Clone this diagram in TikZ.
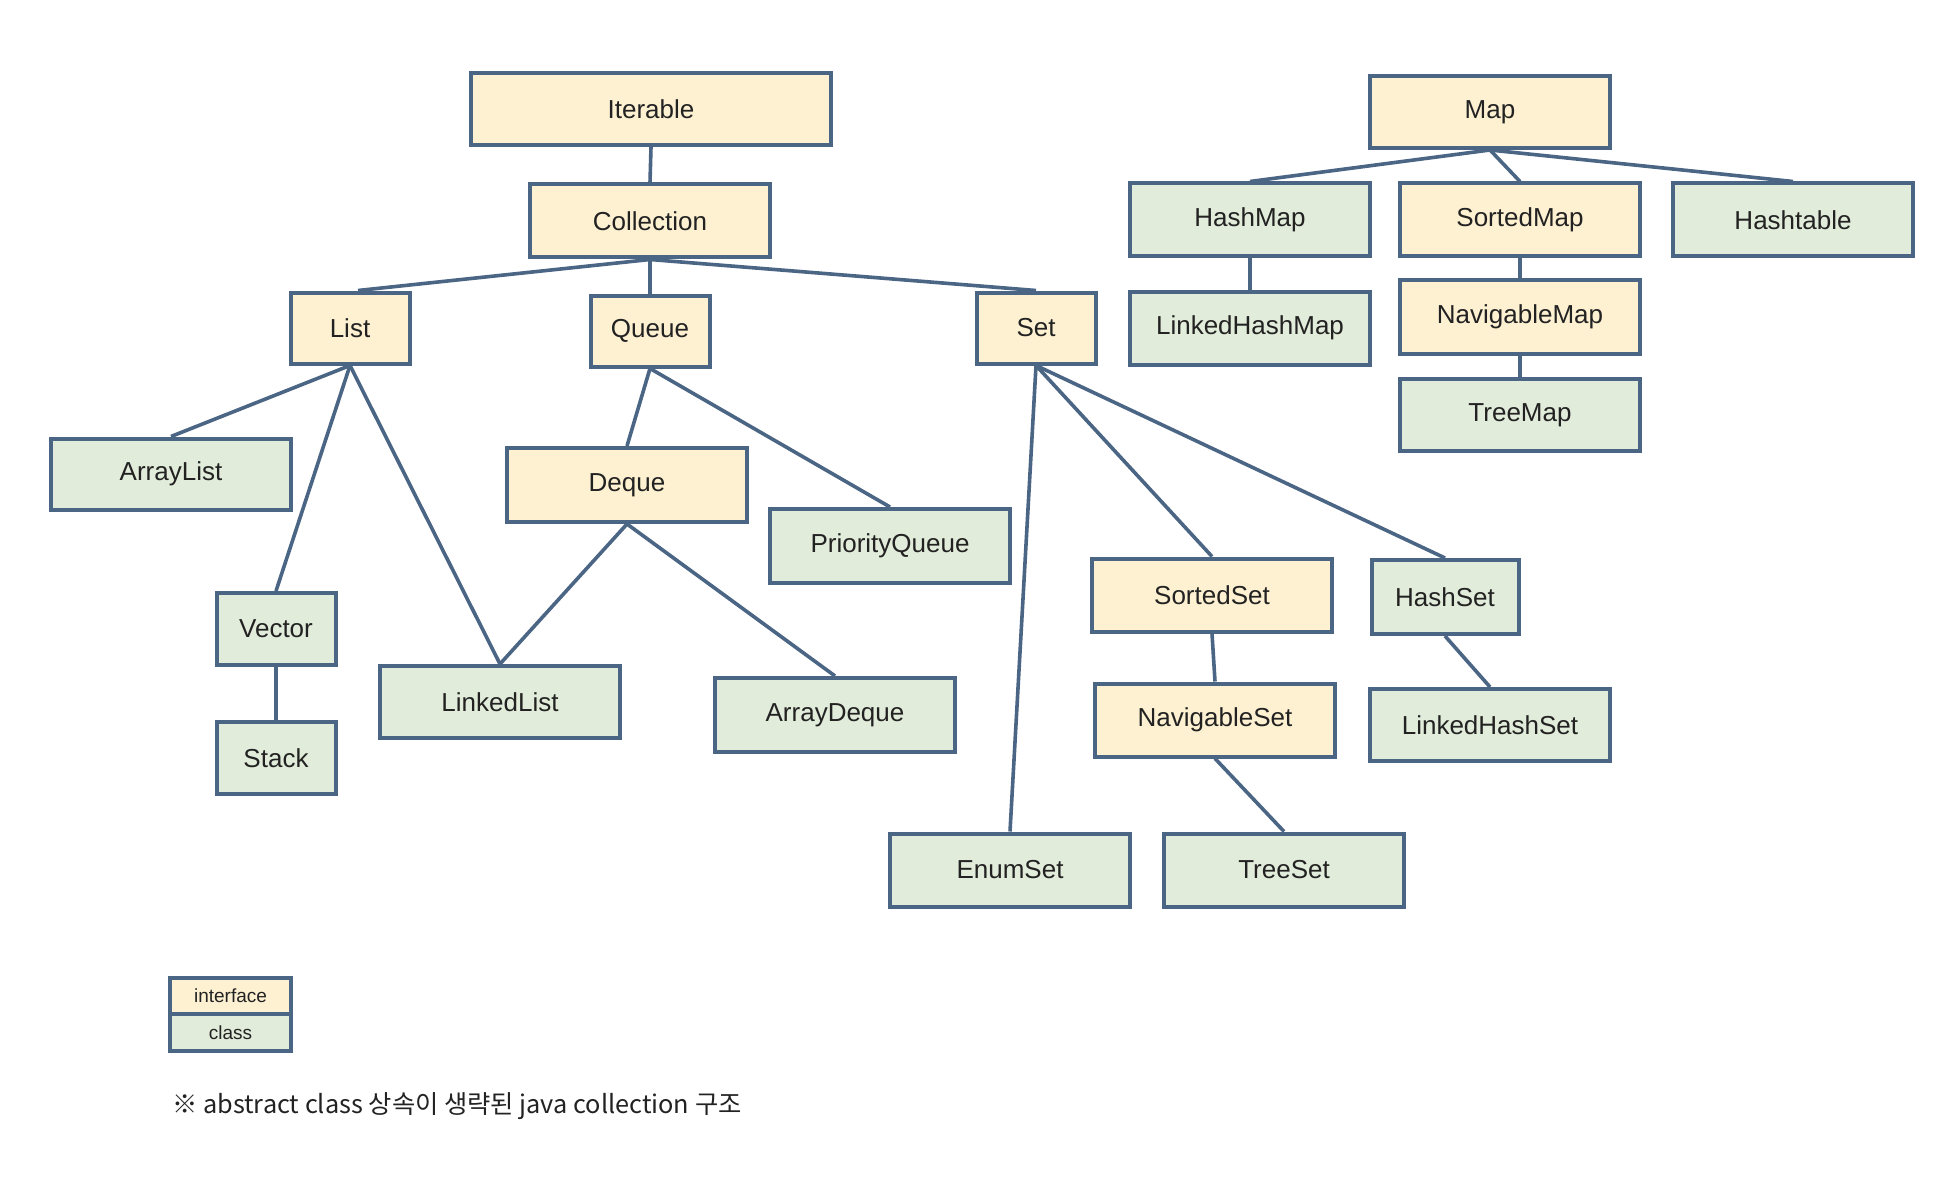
\documentclass[tikz,border=0pt]{standalone}
\usepackage{fontspec}
\setmainfont{Liberation Sans}
\newfontfamily\krfont{Noto Sans CJK KR}
\definecolor{ifill}{HTML}{FDF1D2}
\definecolor{cfill}{HTML}{E2ECDA}
\definecolor{edge}{HTML}{4B6584}
\definecolor{txt}{HTML}{222222}
\begin{document}
\begin{tikzpicture}[x=1pt,y=-1pt,
  base/.style={draw=edge, line width=4pt, text=txt, inner sep=0pt,
    font=\fontsize{26}{30}\selectfont, minimum width=240pt, minimum height=73pt},
  iface/.style={base, fill=ifill},
  cls/.style={base, fill=cfill},
  small/.style={minimum width=119pt, minimum height=71pt},
  legend/.style={minimum width=121pt, line width=3.5pt, outer sep=0pt,
    font=\fontsize{19}{22}\selectfont},
  link/.style={draw=edge, line width=3.6pt}]
\useasboundingbox[fill=white] (0,0) rectangle (1948,1182);

% Collection side
\node[iface, minimum width=360pt, minimum height=72pt] (iter) at (651,109) {Iterable};
\node[iface] (coll) at (650,221) {Collection};
\node[iface, small] (list) at (350,328) {List};
\node[iface, small] (queue) at (650,331) {Queue};
\node[iface, small] (set) at (1036,328) {Set};
\node[cls, minimum height=71pt] (alist) at (171,474) {ArrayList};
\node[iface, minimum height=74pt] (deque) at (627,485) {Deque};
\node[cls, minimum height=74pt] (pq) at (890,546) {PriorityQueue};
\node[cls, small, minimum height=72pt] (vector) at (276,629) {Vector};
\node[cls, small, minimum height=72pt] (stack) at (276,758) {Stack};
\node[cls, minimum height=72pt] (llist) at (500,702) {LinkedList};
\node[cls, minimum height=74pt] (adeque) at (835,715) {ArrayDeque};
\node[iface] (sset) at (1212,595) {SortedSet};
\node[cls, minimum width=147pt, minimum height=74pt] (hset) at (1445,597) {HashSet};
\node[iface] (nset) at (1215,720) {NavigableSet};
\node[cls, minimum height=72pt] (lhset) at (1490,725) {LinkedHashSet};
\node[cls] (eset) at (1010,870) {EnumSet};
\node[cls] (tset) at (1284,870) {TreeSet};

% Map side
\node[iface, minimum height=72pt] (map) at (1490,112) {Map};
\node[cls] (hmap) at (1250,220) {HashMap};
\node[iface] (smap) at (1520,220) {SortedMap};
\node[cls] (htable) at (1793,220) {Hashtable};
\node[cls] (lhmap) at (1250,328) {LinkedHashMap};
\node[iface] (nmap) at (1520,317) {NavigableMap};
\node[cls, minimum height=72pt] (tmap) at (1520,415) {TreeMap};

% connectors
\draw[link] (iter.south) -- (coll.north);
\draw[link] (coll.south) -- ([xshift=8pt]list.north);
\draw[link] (coll.south) -- (queue.north);
\draw[link] (coll.south) -- (set.north);
\draw[link] (list.south) -- (alist.north);
\draw[link] (list.south) -- (vector.north);
\draw[link] (list.south) -- (llist.north);
\draw[link] (vector.south) -- (stack.north);
\draw[link] (queue.south) -- (deque.north);
\draw[link] (queue.south) -- (pq.north);
\draw[link] (deque.south) -- (llist.north);
\draw[link] (deque.south) -- (adeque.north);
\draw[link] (set.south) -- (eset.north);
\draw[link] (set.south) -- (sset.north);
\draw[link] (set.south) -- (hset.north);
\draw[link] (sset.south) -- (nset.north);
\draw[link] (nset.south) -- (tset.north);
\draw[link] (hset.south) -- (lhset.north);
\draw[link] (map.south) -- (hmap.north);
\draw[link] (map.south) -- (smap.north);
\draw[link] (map.south) -- (htable.north);
\draw[link] (hmap.south) -- (lhmap.north);
\draw[link] (smap.south) -- (nmap.north);
\draw[link] (nmap.south) -- (tmap.north);

% legend
\node[iface, legend, minimum height=36pt] (lgi) at (230.5,996) {interface};
\node[cls, legend, minimum height=37pt] (lgc) at (230.5,1032.5) {class};

% footnote
\node[anchor=west, inner sep=0pt, text=txt, font=\krfont\fontsize{25.3}{29}\selectfont] (note) at (172,1106)
  {※ abstract class 상속이 생략된 java collection 구조};
\end{tikzpicture}
\end{document}
